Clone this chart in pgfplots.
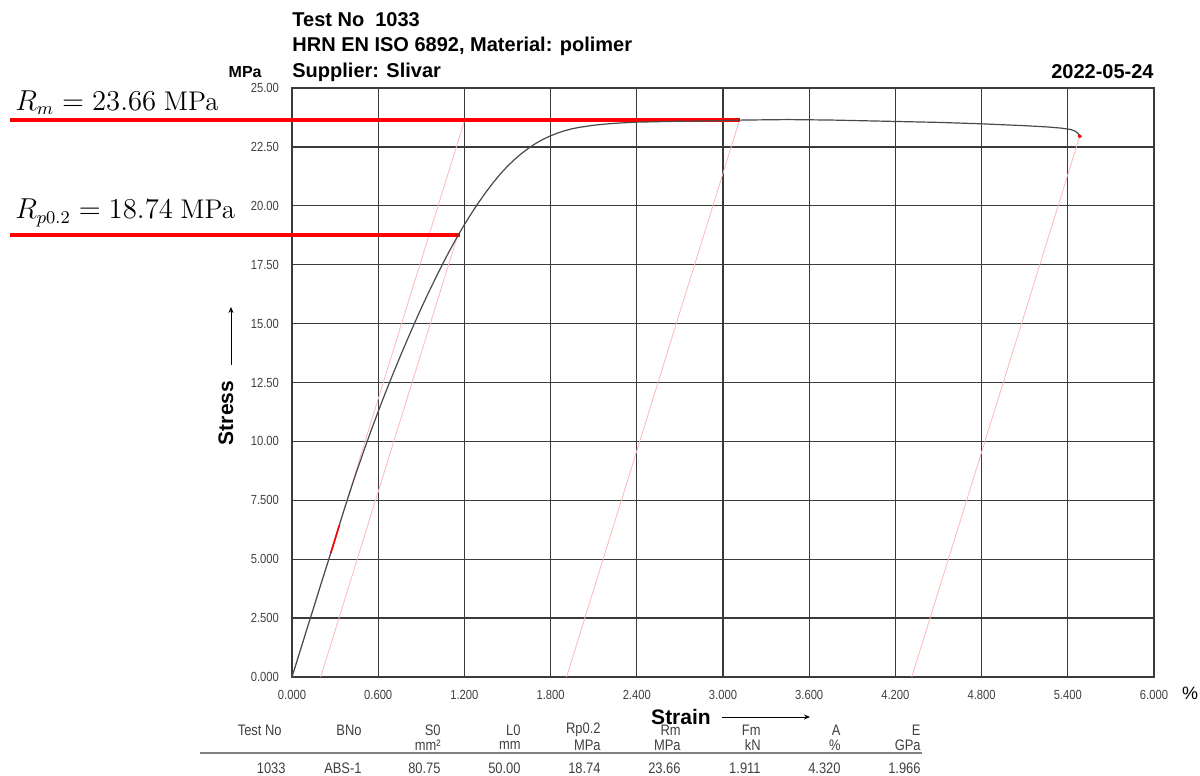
\documentclass[border=0pt]{standalone}
\usepackage{pgfplots}
\pgfplotsset{compat=1.18}
\usepackage{fontspec}
\setmainfont{Liberation Sans}
\newfontfamily\narrowfont[FakeStretch=0.85]{Liberation Sans}
\newfontfamily\lmr{Latin Modern Roman}
\usetikzlibrary{arrows.meta}
\definecolor{gridc}{HTML}{3A3A3A}
\definecolor{curvec}{HTML}{4A4A4A}
\definecolor{pinkc}{HTML}{FFB8B8}
\definecolor{tickc}{HTML}{404040}
\begin{document}
\begin{tikzpicture}
\useasboundingbox (-146pt,-49.5pt) rectangle (454pt,338.5pt);
\begin{axis}[
  at={(0,0)}, anchor=south west,
  scale only axis, width=431pt, height=294.5pt,
  xmin=0, xmax=6, ymin=0, ymax=25,
  xtick={0,0.6,1.2,1.8,2.4,3.0,3.6,4.2,4.8,5.4,6.0},
  xticklabels={0.000,0.600,1.200,1.800,2.400,3.000,3.600,4.200,4.800,5.400,6.000},
  ytick={0,2.5,5,7.5,10,12.5,15,17.5,20,22.5,25},
  yticklabels={0.000,2.500,5.000,7.500,10.00,12.50,15.00,17.50,20.00,22.50,25.00},
  grid=major,
  major grid style={gridc, line width=0.65pt},
  axis line style={gridc, line width=0.65pt},
  major tick length=0pt,
  tick label style={font=\narrowfont\fontsize{6.6}{7}\selectfont, text=tickc},
  xticklabel style={yshift=-3pt},
  yticklabel style={xshift=-3pt},
  clip=false,
]
% offset / modulus lines
\addplot[pinkc, line width=0.4pt] coordinates {(0,0) (1.2,23.6)};
\addplot[pinkc, line width=0.4pt] coordinates {(0.2,0) (1.153,18.74)};
\addplot[pinkc, line width=0.4pt] coordinates {(1.911,0) (3.116,23.66)};
\addplot[pinkc, line width=0.4pt] coordinates {(4.314,0) (5.483,22.95)};
% annotation lines
\addplot[red, line width=2pt] coordinates {(-1.963,23.66) (3.118,23.66)};
\addplot[red, line width=2pt] coordinates {(-1.963,18.74) (1.169,18.74)};
% stress-strain curve
\addplot[curvec, line width=0.6pt] coordinates {
(0,0) (0.05,0.98) (0.1,1.96) (0.15,2.93) (0.2,3.91) (0.25,4.87) (0.3,5.85)
(0.35,6.85) (0.40,7.8) (0.45,8.72) (0.50,9.6) (0.55,10.45) (0.60,11.27)
(0.65,12.06) (0.70,12.82) (0.75,13.56) (0.80,14.28) (0.85,14.98) (0.90,15.66)
(0.95,16.31) (1.00,16.94) (1.05,17.55) (1.10,18.13) (1.15,18.68) (1.20,19.2)
(1.25,19.69) (1.30,20.15) (1.35,20.58) (1.40,20.98) (1.45,21.35) (1.50,21.68)
(1.55,21.97) (1.60,22.23) (1.65,22.46) (1.70,22.66) (1.75,22.83) (1.80,22.97)
(1.85,23.09) (1.90,23.19) (1.95,23.27) (2.00,23.33) (2.10,23.42) (2.20,23.48)
(2.30,23.52) (2.40,23.55) (2.55,23.57) (2.7,23.59) (2.85,23.6) (3.0,23.62)
(3.15,23.64) (3.3,23.65) (3.45,23.66) (3.6,23.65) (3.75,23.64) (3.9,23.62)
(4.05,23.6) (4.2,23.58) (4.35,23.56) (4.5,23.54) (4.65,23.51) (4.8,23.48)
(4.95,23.44) (5.1,23.4) (5.25,23.35) (5.35,23.3) (5.42,23.24) (5.45,23.17)
(5.47,23.08) (5.483,22.95)
};
% fit region
\addplot[red, line width=0.8pt] coordinates {(0.27,5.26) (0.33,6.45)};
\addplot[red, only marks, mark=*, mark size=0.8pt] coordinates {(5.483,22.95)};
\end{axis}
% titles
\begin{scope}[every node/.style={font=\bfseries\fontsize{10}{12}\selectfont, inner sep=0pt}]
\node[anchor=west] at (0pt,328.5pt) {Test No\ \ 1033};
\node[anchor=west] at (0pt,315.5pt) {HRN EN ISO 6892, Material: polimer};
\node[anchor=west] at (0pt,302.5pt) {Supplier: Slivar};
\node[anchor=east] at (431pt,302.5pt) {2022-05-24};
\end{scope}
\node[anchor=east, inner sep=0pt, font=\bfseries\fontsize{8}{9}\selectfont] at (-15pt,302.5pt) {MPa};
\node[inner sep=0pt, font=\fontsize{9}{10}\selectfont] at (449pt,-8pt) {\%};
% axis labels
\node[rotate=90, inner sep=0pt, font=\bfseries\fontsize{10.5}{12}\selectfont] at (-33pt,132pt) {Stress};
\draw[-{Stealth[length=3pt,width=2.5pt]}, line width=0.4pt] (-30.5pt,156pt) -- (-30.5pt,185pt);
\node[inner sep=0pt, font=\bfseries\fontsize{10.5}{12}\selectfont] at (194.5pt,-20pt) {Strain};
\draw[-{Stealth[length=3pt,width=2.5pt]}, line width=0.4pt] (215pt,-20pt) -- (259pt,-20pt);
% annotations
\node[anchor=west, inner sep=0pt, font=\fontsize{13.5}{15}\selectfont] at (-138.5pt,287pt) {$R_m = 23.66\ \mbox{\lmr MPa}$};
\node[anchor=west, inner sep=0pt, font=\fontsize{13.5}{15}\selectfont] at (-138.5pt,232pt) {$R_{p0.2} = 18.74\ \mbox{\lmr MPa}$};
% table
\begin{scope}[every node/.style={anchor=east, inner sep=0pt, font=\narrowfont\fontsize{7.6}{9}\selectfont, text=tickc}]
\node at (-5pt,-26.5pt) {Test No};
\node at (35pt,-26.5pt) {BNo};
\node at (74.5pt,-26.5pt) {S0};
\node at (114.5pt,-26.5pt) {L0};
\node at (154.5pt,-26.5pt) {Rp0.2};
\node at (194.5pt,-26.5pt) {Rm};
\node at (234.5pt,-26.5pt) {Fm};
\node at (274.5pt,-26.5pt) {A};
\node at (314.5pt,-26.5pt) {E};
\node at (74.5pt,-34pt) {mm²};
\node at (114.5pt,-34pt) {mm};
\node at (154.5pt,-34pt) {MPa};
\node at (194.5pt,-34pt) {MPa};
\node at (234.5pt,-34pt) {kN};
\node at (274.5pt,-34pt) {\%};
\node at (314.5pt,-34pt) {GPa};
\node at (-3pt,-45.5pt) {1033};
\node at (35pt,-45.5pt) {ABS-1};
\node at (74.5pt,-45.5pt) {80.75};
\node at (114.5pt,-45.5pt) {50.00};
\node at (154.5pt,-45.5pt) {18.74};
\node at (194.5pt,-45.5pt) {23.66};
\node at (234.5pt,-45.5pt) {1.911};
\node at (274.5pt,-45.5pt) {4.320};
\node at (314.5pt,-45.5pt) {1.966};
\end{scope}
\draw[gray, line width=1.4pt] (-46pt,-38pt) -- (315pt,-38pt);
\end{tikzpicture}
\end{document}
